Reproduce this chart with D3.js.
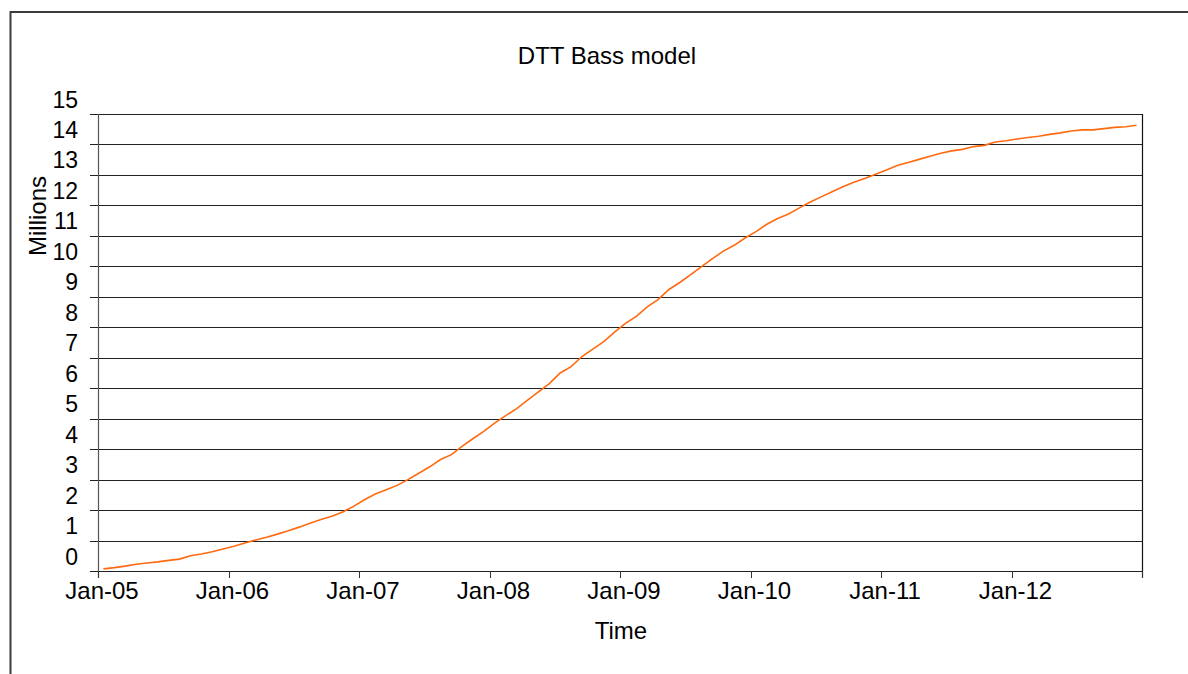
<!DOCTYPE html>
<html>
<head>
<meta charset="utf-8">
<script src="https://cdn.jsdelivr.net/npm/d3@7"></script>
<style>
  html, body { margin: 0; padding: 0; background: #fff; }
  svg { display: block; }
  text { font-family: "Liberation Sans", Arial, sans-serif; fill: #000; }
</style>
</head>
<body>
<svg id="chart" width="1188" height="674"></svg>
<script>
// ---- Data ----
const title = "DTT Bass model";
const xTitle = "Time";
const yTitle = "Millions";
const yearLabels = ["Jan-05", "Jan-06", "Jan-07", "Jan-08", "Jan-09", "Jan-10", "Jan-11", "Jan-12"];
const yTicks = [0, 1, 2, 3, 4, 5, 6, 7, 8, 9, 10, 11, 12, 13, 14, 15];
// Monthly cumulative adopters (millions), Jan-05 .. Dec-12
const adopters = [
  0.07, 0.11, 0.16, 0.22, 0.26, 0.30, 0.35, 0.39, 0.50, 0.56, 0.63, 0.72,
  0.81, 0.92, 1.02, 1.11, 1.21, 1.32, 1.44, 1.57, 1.69, 1.80, 1.94, 2.12,
  2.34, 2.53, 2.67, 2.81, 3.00, 3.21, 3.42, 3.66, 3.82, 4.10, 4.35, 4.59,
  4.86, 5.10, 5.33, 5.61, 5.88, 6.15, 6.50, 6.71, 7.04, 7.28, 7.53, 7.84,
  8.13, 8.36, 8.67, 8.91, 9.24, 9.47, 9.73, 9.99, 10.25, 10.50, 10.69, 10.93,
  11.14, 11.38, 11.57, 11.72, 11.92, 12.11, 12.28, 12.45, 12.61, 12.76, 12.88, 13.02,
  13.16, 13.31, 13.41, 13.51, 13.61, 13.71, 13.79, 13.84, 13.93, 13.97, 14.08, 14.12,
  14.18, 14.23, 14.27, 14.33, 14.38, 14.44, 14.48, 14.48, 14.52, 14.56, 14.58, 14.63
];
const monthsPerYear = 12;

// ---- Layout ----
const svg = d3.select("#chart");
const L = 98, R = 1142, T = 114, B = 571;

const x = d3.scaleLinear().domain([0, adopters.length]).range([L, R]);
const y = d3.scaleLinear().domain([0, 15]).range([B, T]);

// outer chart border (clipped on right/bottom)
svg.append("path")
  .attr("d", "M10.5,674 V12 H1188")
  .attr("fill", "none").attr("stroke", "#3c3c3c").attr("stroke-width", 2);

// gridlines + y ticks
const g = svg.append("g");
g.selectAll("line.grid").data(yTicks).join("line")
  .attr("class", "grid")
  .attr("x1", L - 8).attr("x2", R)
  .attr("y1", d => Math.round(y(d)) + 0.5).attr("y2", d => Math.round(y(d)) + 0.5)
  .attr("stroke", "#222").attr("stroke-width", 1.2);

// y tick labels (drawn shifted above gridlines as in the original)
g.selectAll("text.ylab").data(yTicks).join("text")
  .attr("class", "ylab")
  .attr("x", 78).attr("y", d => y(d) - 6.5)
  .attr("text-anchor", "end")
  .attr("font-size", 23)
  .text(d => d);

// left axis + right border
svg.append("line").attr("x1", L + 0.5).attr("x2", L + 0.5).attr("y1", T).attr("y2", B + 7)
  .attr("stroke", "#555").attr("stroke-width", 1.2);
svg.append("line").attr("x1", R + 0.5).attr("x2", R + 0.5).attr("y1", T).attr("y2", B + 7)
  .attr("stroke", "#111").attr("stroke-width", 1.2);

// x ticks
const tickIdx = yearLabels.map((_, i) => i * monthsPerYear);
svg.selectAll("line.xt").data(tickIdx.concat([adopters.length])).join("line")
  .attr("class", "xt")
  .attr("x1", d => Math.round(x(d)) + 0.5).attr("x2", d => Math.round(x(d)) + 0.5)
  .attr("y1", B).attr("y2", B + 7)
  .attr("stroke", "#333").attr("stroke-width", 1);

svg.selectAll("text.xlab").data(yearLabels).join("text")
  .attr("class", "xlab")
  .attr("x", (d, i) => x(i * monthsPerYear) + 4)
  .attr("y", 599)
  .attr("text-anchor", "middle")
  .attr("font-size", 24)
  .text(d => d);

// line
const line = d3.line()
  .x((d, i) => x(i + 0.5))
  .y(d => y(d));
svg.append("path")
  .datum(adopters)
  .attr("d", line)
  .attr("fill", "none")
  .attr("stroke", "#FF6A10")
  .attr("stroke-width", 1.6);

// titles
svg.append("text").attr("x", 607).attr("y", 64)
  .attr("text-anchor", "middle").attr("font-size", 24).text(title);
svg.append("text").attr("x", 621).attr("y", 639)
  .attr("text-anchor", "middle").attr("font-size", 24).text(xTitle);
svg.append("text")
  .attr("transform", "translate(46,216) rotate(-90)")
  .attr("text-anchor", "middle").attr("font-size", 24).text(yTitle);
</script>
</body>
</html>
